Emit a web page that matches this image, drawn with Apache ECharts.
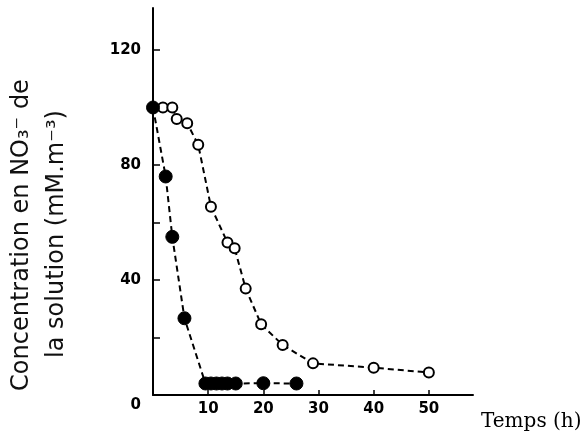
<!DOCTYPE html>
<html>
<head>
<meta charset="utf-8">
<script src="https://cdn.jsdelivr.net/npm/echarts@6/dist/echarts.min.js"></script>
<style>
  html, body { margin: 0; padding: 0; background: #fff; }
  #main { width: 585px; height: 442px; }
</style>
</head>
<body>
<div id="main"></div>
<script>
// lente (cercles vides)
var lentX = [0, 1.8, 3.5, 4.3, 6.2, 8.2, 10.5, 13.5, 14.8, 16.8, 19.6, 23.5, 29, 40, 50];
var lentY = [100, 100, 100, 96, 94.5, 87, 65.5, 53, 51, 37, 24.6, 17.4, 11, 9.5, 7.8];
// rapide (cercles pleins)
var rapX = [0, 2.3, 3.5, 5.7, 9.5, 10.5, 11.5, 12.5, 13.5, 15, 20, 26];
var rapY = [100, 76, 55, 26.7, 4, 4, 4, 4, 4, 4, 4.1, 4];
// graduations
var xTicks = [10, 20, 30, 40, 50];
var yTicks = [0, 20, 40, 60, 80, 100, 120];
var yLabels = [0, 40, 80, 120];

function pairs(xs, ys) {
    var out = [];
    for (var i = 0; i < xs.length; i++) out.push([xs[i], ys[i]]);
    return out;
}

var chart = echarts.init(document.getElementById('main'));
var option = {
    animation: false,
    grid: { left: 153, right: 112, top: 8, bottom: 47 },
    xAxis: {
        type: 'value', min: 0, max: 58,
        axisLine: { lineStyle: { color: '#000', width: 2 } },
        axisTick: { inside: true, length: 5, customValues: xTicks, lineStyle: { color: '#000', width: 1.5 } },
        axisLabel: { customValues: xTicks, margin: 7, color: '#000', fontWeight: 'bold', fontSize: 15, fontFamily: 'DejaVu Sans' },
        splitLine: { show: false }
    },
    yAxis: {
        type: 'value', min: 0, max: 134.6,
        axisLine: { show: true, lineStyle: { color: '#000', width: 2 } },
        axisTick: { show: true, inside: true, length: 7, customValues: yTicks, lineStyle: { color: '#000', width: 1.5 } },
        axisLabel: {
            customValues: yLabels, margin: 12, color: '#000', fontWeight: 'bold', fontSize: 15, fontFamily: 'DejaVu Sans',
            formatter: function (v) { return v === 0 ? '{z|0}' : String(v); },
            rich: { z: { padding: [20, 0, 0, 0], fontWeight: 'bold', fontSize: 15, fontFamily: 'DejaVu Sans', color: '#000' } }
        },
        splitLine: { show: false }
    },
    graphic: [
        { type: 'text', left: 481, top: 412,
          style: { text: 'Temps (h)', font: '20px "DejaVu Serif"', fill: '#000' } },
        { type: 'text', x: 22, y: 235, rotation: Math.PI / 2,
          style: { text: 'Concentration en NO₃⁻ de', font: '24px "DejaVu Sans"', fill: '#111', align: 'center', verticalAlign: 'middle' } },
        { type: 'text', x: 57, y: 234, rotation: Math.PI / 2,
          style: { text: 'la solution (mM.m⁻³)', font: '24px "DejaVu Sans"', fill: '#111', align: 'center', verticalAlign: 'middle' } }
    ],
    series: [
        {
            type: 'line', data: pairs(lentX, lentY),
            symbol: 'circle', symbolSize: 10,
            lineStyle: { color: '#000', width: 2, type: [6, 4] },
            itemStyle: { color: '#fff', borderColor: '#000', borderWidth: 2 }
        },
        {
            type: 'line', data: pairs(rapX, rapY),
            symbol: 'circle', symbolSize: 13,
            lineStyle: { color: '#000', width: 2, type: [6, 4] },
            itemStyle: { color: '#000', borderColor: '#000', borderWidth: 1 }
        }
    ]
};
chart.setOption(option);
</script>
</body>
</html>
